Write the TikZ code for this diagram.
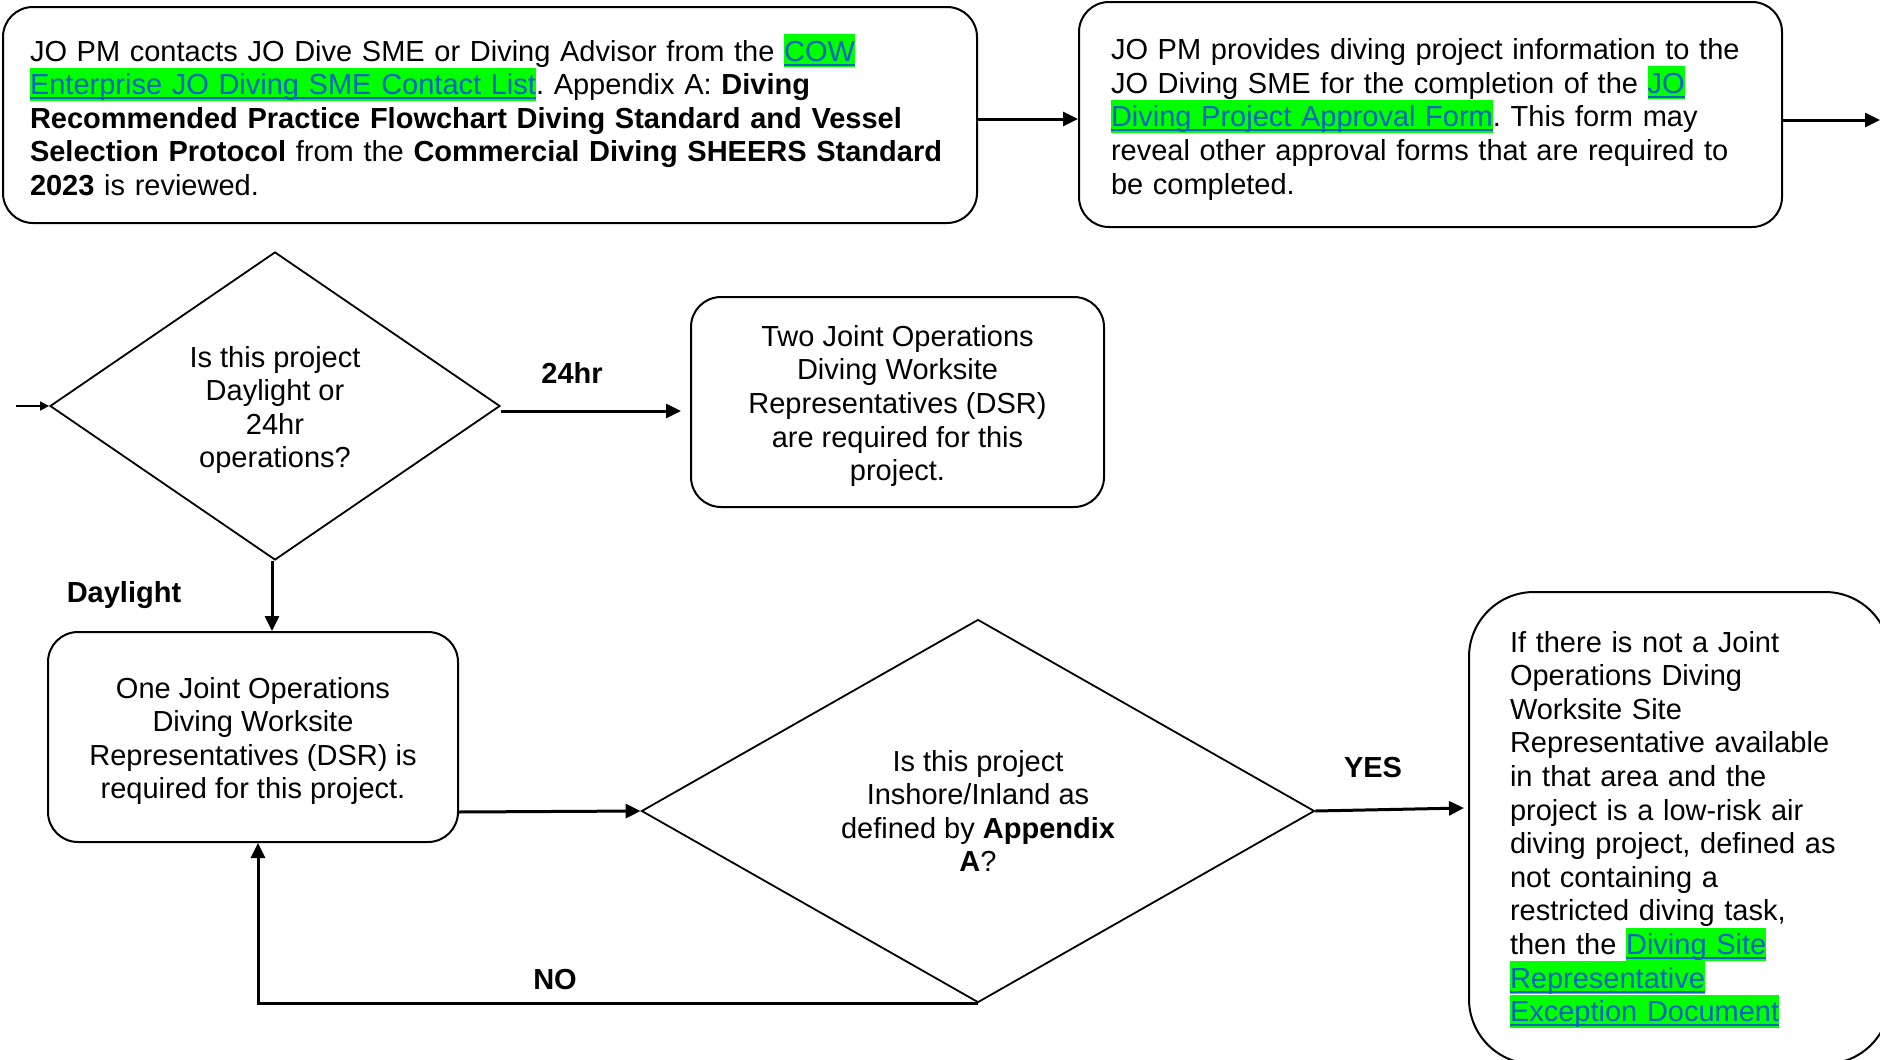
\documentclass[tikz,border=0pt]{standalone}
\usepackage{fontspec}
\setmainfont{Liberation Sans}
\usetikzlibrary{shapes.geometric,arrows.meta,calc}
\definecolor{hl}{RGB}{0,255,0}
\definecolor{lnkc}{RGB}{5,99,193}
\frenchspacing
\newcommand\ulnk[1]{\setbox0\hbox{#1}\rlap{\rule[-4.5pt]{\wd0}{2pt}}\box0}
\newcommand\lnk[1]{{\setlength\fboxsep{0pt}\colorbox{hl}{\rule[-5.6pt]{0pt}{32.6pt}\textcolor{lnkc}{\ulnk{#1}}}}}
\newcommand\topstrut[1]{\rule{0pt}{#1}}
\begin{document}
\begin{tikzpicture}[x=1pt,y=-1pt,
  font=\fontsize{29}{33.6}\selectfont,
  box/.style={draw, line width=2pt, rounded corners=30pt, inner sep=0pt},
  dia/.style={draw, diamond, line width=1.8pt, inner sep=0pt, align=center},
  arr/.style={line width=3pt, -{Triangle[length=15pt,width=14pt]}},
  smallarr/.style={line width=1.6pt, -{Triangle[length=9pt,width=9pt]}},
  lbl/.style={font=\fontsize{29}{33.6}\selectfont\bfseries}]
\useasboundingbox (0,0) rectangle (1880,1060);

\node[box, minimum width=974pt, minimum height=216pt, text width=920pt, align=left] (b1) at (490,115)
{JO PM contacts JO Dive SME or Diving Advisor from the \lnk{COW}\\
\lnk{Enterprise JO Diving SME Contact List}. Appendix A: \textbf{Diving}\\
\textbf{Recommended Practice Flowchart Diving Standard and Vessel}\\
\textbf{Selection Protocol} from the \textbf{Commercial Diving SHEERS Standard}\\
\textbf{2023} is reviewed.};

\node[box, minimum width=703pt, minimum height=225pt, text width=639pt, align=left] (b2) at (1430.5,114.5)
{\topstrut{31pt}JO PM provides diving project information to the\\
JO Diving SME for the completion of the \lnk{JO}\\
\lnk{Diving Project Approval Form}. This form may\\
reveal other approval forms that are required to\\
be completed.};

\node[dia, minimum width=450pt, minimum height=308pt, aspect=1.46] (d1) at (275,406)
{\topstrut{29pt}Is this project\\Daylight or\\24hr\\operations?};

\node[box, minimum width=413pt, minimum height=210pt, align=center] (b3) at (897.5,402)
{\topstrut{29pt}Two Joint Operations\\Diving Worksite\\Representatives (DSR)\\are required for this\\project.};

\node[box, minimum width=410pt, minimum height=210pt, align=center] (b4) at (253,737)
{\topstrut{29pt}One Joint Operations\\Diving Worksite\\Representatives (DSR) is\\required for this project.};

\node[dia, minimum width=673pt, minimum height=383pt, aspect=1.76] (d2) at (978,811)
{Is this project\\Inshore/Inland as\\defined by \textbf{Appendix}\\\textbf{A}?};

\node[box, rounded corners=65pt, minimum width=421pt, minimum height=472pt, text width=339pt, align=left] (b5) at (1679.5,828)
{\topstrut{24pt}If there is not a Joint\\Operations Diving\\Worksite Site\\Representative available\\in that area and the\\project is a low-risk air\\diving project, defined as\\not containing a\\restricted diving task,\\then the \lnk{Diving Site}\\\lnk{Representative}\\\lnk{Exception Document}};

\coordinate (in) at (16,406);
\coordinate (out) at (1880,120);

\draw[arr] ($(b1.east)+(0,4)$) -- ($(b2.west)+(0,4.5)$);
\draw[arr] (b2.east |- out) -- (out);
\draw[smallarr] (in) -- (d1.west);
\draw[arr] ($(d1.east)+(0,5)$) -- ($(b3.west |- d1.east)+(-9,5)$);
\draw[arr] ($(d1.south)+(-3,0)$) -- ($(b4.north -| d1.south)+(-3,0)$);
\draw[arr] ($(b4.east |- d2.west)+(0,1)$) -- (d2.west);
\draw[arr] (d2.south) -| ($(b4.south)+(5,0)$);
\draw[arr] (d2.east) -- ($(b5.west |- d2.east)+(-4,-3)$);

\node[lbl] (l24) at (572,373) {24hr};
\node[lbl] (lday) at (124,595) {Daylight};
\node[lbl] (lno) at (555,980) {NO};
\node[lbl] (lyes) at (1373,768) {YES};
\end{tikzpicture}
\end{document}
